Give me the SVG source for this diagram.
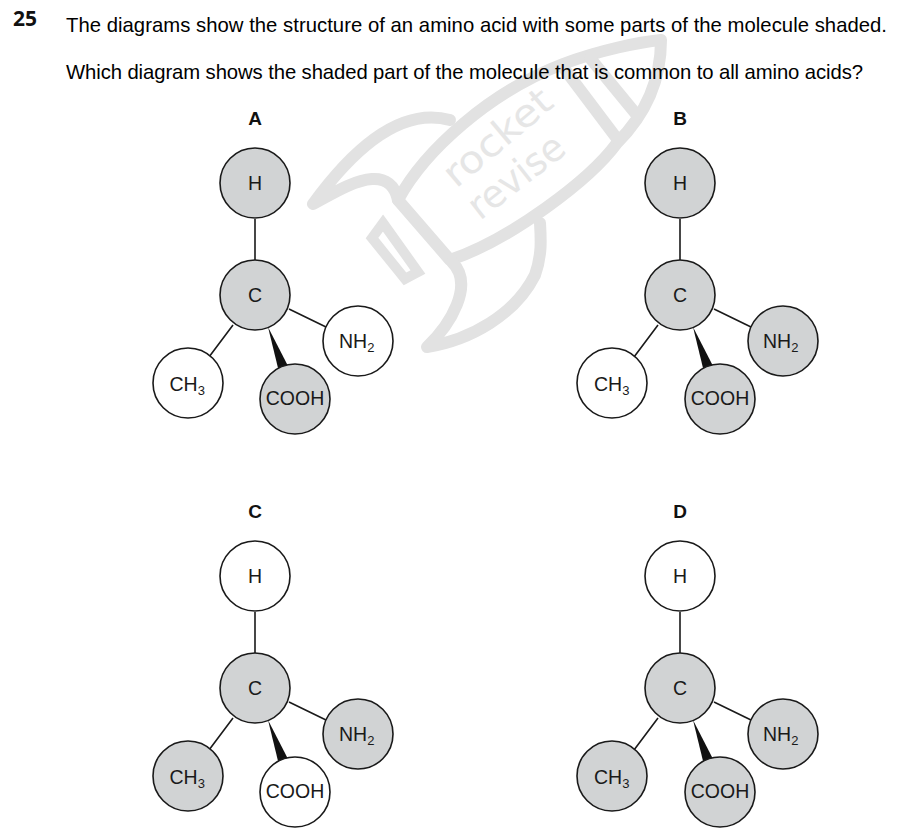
<svg xmlns="http://www.w3.org/2000/svg" width="904" height="838" viewBox="0 0 904 838">
<style>
text{font-family:"Liberation Sans",Arial,sans-serif;fill:#1a1a1a}
.q{font-size:20.3px;fill:#000}
.l{font-size:19px;font-weight:bold;text-anchor:middle;fill:#111}
.t{font-size:19.5px;text-anchor:middle}
.u{font-size:19.5px}
.s{font-size:13px}
.n{stroke:#1a1a1a;stroke-width:1.6px}
.g{fill:#d1d3d4}
.w{fill:#fff}
.b{stroke:#1a1a1a;stroke-width:1.6px;fill:none}
.wm{fill:none;stroke:#e2e2e2;stroke-width:12px;stroke-linejoin:round;stroke-linecap:round}
.wt{font-family:"DejaVu Sans",sans-serif;font-size:38px;fill:#e6e6e6}
</style>
<defs>
<g id="bonds">
<path class="b" d="M0-76V-35M34 14L71 32M-22 30L-46 62"/>
<path d="M13 32L23 73L33 71Z" fill="#111"/>
</g>
</defs>
<g id="watermark">
<path class="wm" d="M398 200C425 150 490 92 563 64C600 50 640 42 661 40C661 80 645 115 617 143C590 180 510 240 450 260Z"/>
<path class="wm" d="M563 67L618 140M590 58L636 114"/>
<path class="wm" d="M398 200C395 185 385 178 372 179C355 180 335 192 313 204C345 160 395 105 450 120"/>
<path class="wm" d="M452 262C475 285 450 325 427 347C470 340 515 315 535 275C542 255 541 240 540 223"/>
<path class="wm" style="stroke-width:10px;stroke-linejoin:miter" d="M383 223L418 272L405 279L372 238Z"/>
<text class="wt" transform="translate(456 189) rotate(-40)" textLength="130" lengthAdjust="spacingAndGlyphs">rocket</text>
<text class="wt" transform="translate(480 221) rotate(-38)" textLength="112" lengthAdjust="spacingAndGlyphs">revise</text>
</g>
<g id="question">
<text x="13" y="26" style="font-family:'Open Sans',sans-serif;font-size:21px;font-weight:bold;fill:#111">25</text>
<text class="q" x="66" y="32" textLength="821">The diagrams show the structure of an amino acid with some parts of the molecule shaded.</text>
<text class="q" x="66" y="79" textLength="797">Which diagram shows the shaded part of the molecule that is common to all amino acids?</text>
</g>
<g id="connectors">
<use href="#bonds" x="255" y="295"/>
<use href="#bonds" x="680" y="295"/>
<use href="#bonds" x="255" y="688"/>
<use href="#bonds" x="680" y="688"/>
</g>
<g id="A">
<text class="l" x="255" y="125">A</text>
<circle class="n g" cx="255" cy="183" r="35"/><text class="t" x="255" y="190">H</text>
<circle class="n g" cx="255" cy="295" r="35"/><text class="t" x="255" y="301.500">C</text>
<circle class="n w" cx="358" cy="341" r="35"/><text class="u" x="339" y="348">NH<tspan class="s" dy="4">2</tspan></text>
<circle class="n w" cx="188" cy="383" r="35"/><text class="u" x="169.500" y="391">CH<tspan class="s" dy="4">3</tspan></text>
<circle class="n g" cx="295" cy="399" r="35"/><text class="t" x="295" y="405">COOH</text>
</g>
<g id="B">
<text class="l" x="680" y="125">B</text>
<circle class="n g" cx="680" cy="183" r="35"/><text class="t" x="680" y="190">H</text>
<circle class="n g" cx="680" cy="295" r="35"/><text class="t" x="680" y="301.500">C</text>
<circle class="n g" cx="783" cy="341" r="35"/><text class="u" x="763" y="348">NH<tspan class="s" dy="4">2</tspan></text>
<circle class="n w" cx="612" cy="383" r="35"/><text class="u" x="594" y="391">CH<tspan class="s" dy="4">3</tspan></text>
<circle class="n g" cx="720" cy="399" r="35"/><text class="t" x="720" y="405">COOH</text>
</g>
<g id="C">
<text class="l" x="255" y="518">C</text>
<circle class="n w" cx="255" cy="576" r="35"/><text class="t" x="255" y="583">H</text>
<circle class="n g" cx="255" cy="688" r="35"/><text class="t" x="255" y="694.500">C</text>
<circle class="n g" cx="358" cy="734" r="35"/><text class="u" x="339" y="741">NH<tspan class="s" dy="4">2</tspan></text>
<circle class="n g" cx="188" cy="776" r="35"/><text class="u" x="169.500" y="784">CH<tspan class="s" dy="4">3</tspan></text>
<circle class="n w" cx="295" cy="792" r="35"/><text class="t" x="295" y="798">COOH</text>
</g>
<g id="D">
<text class="l" x="680" y="518">D</text>
<circle class="n w" cx="680" cy="576" r="35"/><text class="t" x="680" y="583">H</text>
<circle class="n g" cx="680" cy="688" r="35"/><text class="t" x="680" y="694.500">C</text>
<circle class="n g" cx="783" cy="734" r="35"/><text class="u" x="763" y="741">NH<tspan class="s" dy="4">2</tspan></text>
<circle class="n g" cx="612" cy="776" r="35"/><text class="u" x="594" y="784">CH<tspan class="s" dy="4">3</tspan></text>
<circle class="n g" cx="720" cy="792" r="35"/><text class="t" x="720" y="798">COOH</text>
</g>
</svg>
